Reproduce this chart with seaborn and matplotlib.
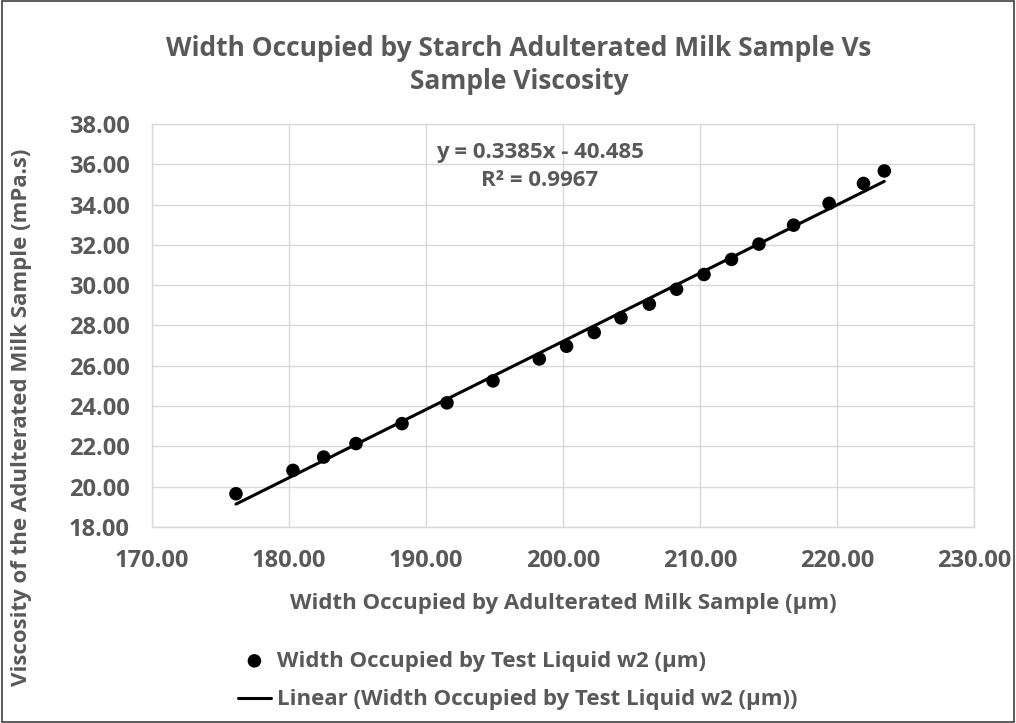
import matplotlib
matplotlib.use("Agg")
import matplotlib.pyplot as plt
import seaborn as sns
import numpy as np
import pandas as pd
from matplotlib.patches import Rectangle

sns.set_theme(style="white")
plt.rcParams['font.family'] = ['Open Sans', 'DejaVu Sans']

# data
width_um = [176.13, 180.29, 182.53, 184.89, 188.25, 191.53, 194.89, 198.27,
            200.26, 202.28, 204.23, 206.30, 208.29, 210.29, 212.30, 214.30,
            216.83, 219.42, 221.93, 223.45]
viscosity = [19.65, 20.81, 21.47, 22.14, 23.13, 24.16, 25.25, 26.34,
             26.97, 27.65, 28.38, 29.06, 29.80, 30.53, 31.28, 32.04,
             32.98, 34.06, 35.05, 35.67]
slope = 0.3385
intercept = -40.485
r_squared = 0.9967

x_ticks = [170, 180, 190, 200, 210, 220, 230]
y_ticks = [18, 20, 22, 24, 26, 28, 30, 32, 34, 36, 38]

grey = "#595959"
grid = "#d9d9d9"

df = pd.DataFrame({"w": width_um, "v": viscosity})
trend_x = np.array([min(width_um), max(width_um)])
trend = pd.DataFrame({"w": trend_x, "v": slope * trend_x + intercept})

fig = plt.figure(figsize=(10.16, 7.23), dpi=100)
ax = fig.add_axes([0.1496, 0.2711, 0.8091, 0.5574])

sns.scatterplot(data=df, x="w", y="v", ax=ax, color="black", s=95,
                edgecolor="none", zorder=3,
                label="Width Occupied by Test Liquid w2 (\u00b5m)")
sns.lineplot(data=trend, x="w", y="v", ax=ax, color="black", linewidth=2.2,
             zorder=2, label="Linear (Width Occupied by Test Liquid w2 (\u00b5m))")

ax.set_xlim(170, 230)
ax.set_ylim(18, 38)
ax.set_xticks(x_ticks)
ax.set_yticks(y_ticks)
ax.set_xticklabels([f"{t:.2f}" for t in x_ticks])
ax.set_yticklabels([f"{t:.2f}" for t in y_ticks])
ax.tick_params(length=0, labelsize=17, labelcolor=grey)
ax.tick_params(axis="y", pad=16)
ax.tick_params(axis="x", pad=16)
for lab in ax.get_xticklabels() + ax.get_yticklabels():
    lab.set_fontweight("bold")

ax.grid(True, color=grid, linewidth=1)
ax.set_axisbelow(True)
for sp in ax.spines.values():
    sp.set_color(grid)
    sp.set_linewidth(1)

ax.set_xlabel("Width Occupied by Adulterated Milk Sample (\u00b5m)",
              fontsize=16, fontweight="bold", color=grey)
ax.xaxis.set_label_coords(0.5, -0.165)
ax.set_ylabel("Viscosity of the Adulterated Milk Sample (mPa.s)",
              fontsize=16, fontweight="bold", color=grey)
ax.yaxis.set_label_coords(-0.146, 0.273)

fig.text(0.511, 0.91,
         "Width Occupied by Starch Adulterated Milk Sample Vs\nSample Viscosity",
         ha="center", va="center", fontsize=19, fontweight="bold", color=grey,
         linespacing=1.32)

ax.text(198.3, 35.9, f"y = {slope}x - {abs(intercept)}\nR\u00b2 = {r_squared}",
        ha="center", va="center", fontsize=16, fontweight="bold",
        color=grey, linespacing=1.45)

ax.get_legend().remove()
handles, labels = ax.get_legend_handles_labels()
leg = fig.legend(handles, labels, loc="upper left", bbox_to_anchor=(0.234, 0.1),
                 frameon=False, fontsize=16, labelcolor=grey, handlelength=1.5,
                 handletextpad=0.25, labelspacing=0.8, borderpad=0,
                 borderaxespad=0)
for t in leg.get_texts():
    t.set_fontweight("bold")

fig.patches.append(Rectangle((0.002, 0.002), 0.996, 0.996, transform=fig.transFigure,
                             fill=False, edgecolor="#404040", linewidth=1.2))

fig.savefig("out.png", dpi=100)
